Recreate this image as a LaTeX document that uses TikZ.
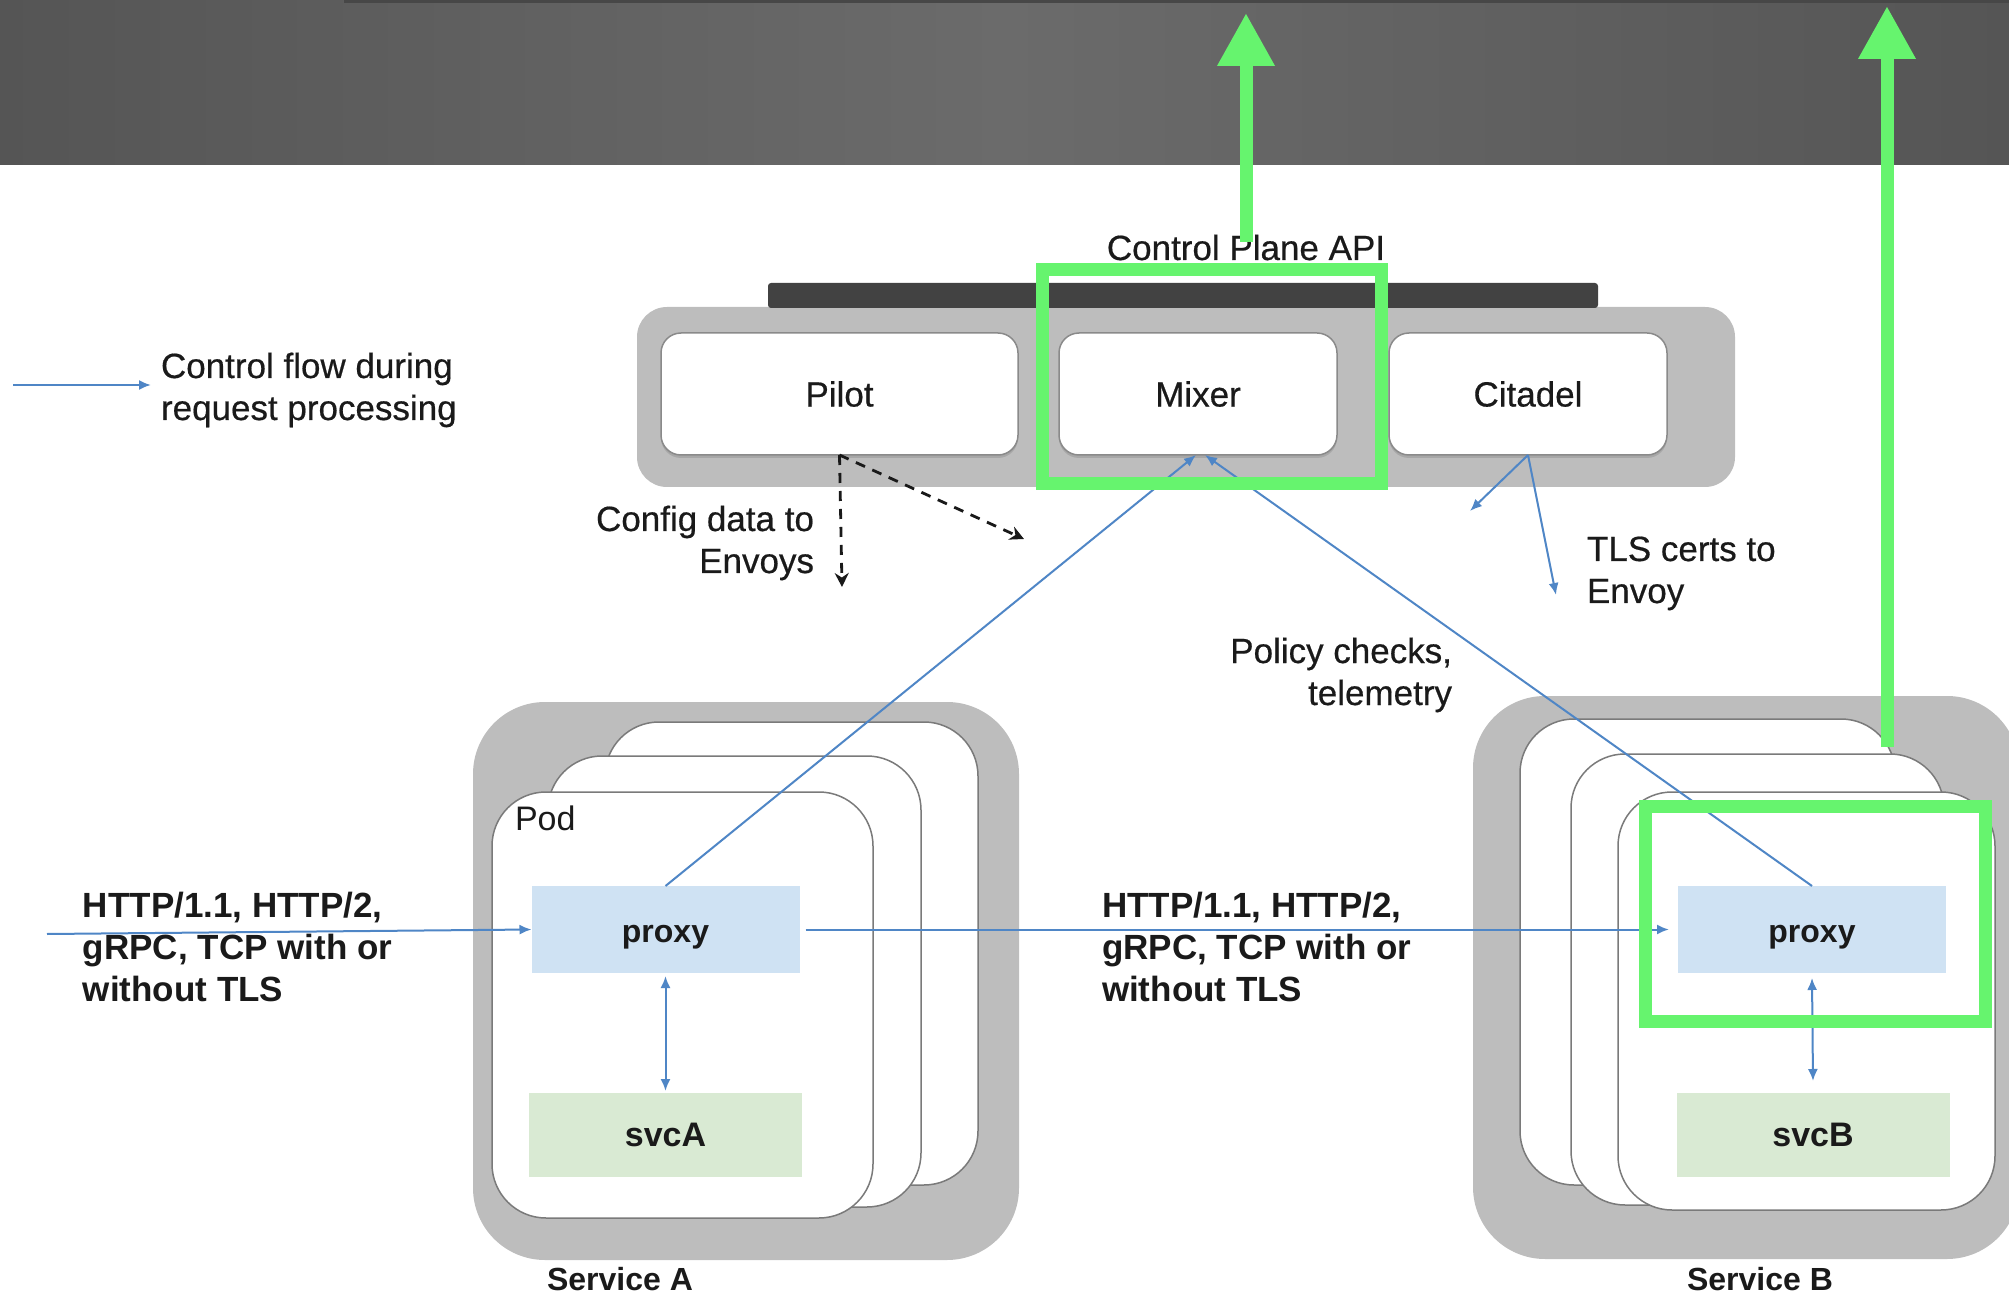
\documentclass[tikz,border=0pt]{standalone}
\usepackage{fontspec}
\setmainfont{Liberation Sans}
\newfontfamily\mediumface[FakeBold=0.5]{Liberation Sans}
\usetikzlibrary{arrows.meta,shadows}
\definecolor{bandmid}{HTML}{6B6B6B}
\definecolor{bandedge}{HTML}{555555}
\definecolor{panelgray}{HTML}{BDBDBD}
\definecolor{apibar}{HTML}{424242}
\definecolor{boxline}{HTML}{8A8A8A}
\definecolor{cardline}{HTML}{7A7A7A}
\definecolor{proxyfill}{HTML}{CFE2F3}
\definecolor{svcfill}{HTML}{D9EAD3}
\definecolor{flow}{HTML}{4F86C6}
\definecolor{hl}{HTML}{66F46E}
\definecolor{ink}{HTML}{1A1A1A}

\begin{document}
\begin{tikzpicture}[x=0.5pt,y=-0.5pt,
  every node/.style={inner sep=0pt, outer sep=0pt, text=ink},
  lbl/.style={font=\mediumface\fontsize{17.5}{21}\selectfont, align=left},
  lblr/.style={font=\mediumface\fontsize{17.5}{21}\selectfont, align=right},
  boldlbl/.style={font=\bfseries\fontsize{17.5}{21}\selectfont, align=left},
  ctrlpanel/.style={fill=panelgray, rounded corners=15pt},
  svcpanel/.style={fill=panelgray, rounded corners=36pt},
  comp/.style={draw=boxline, line width=0.75pt, fill=white, rounded corners=10pt,
    minimum width=#1, minimum height=61pt, font=\mediumface\fontsize{17.5}{21}\selectfont,
    drop shadow={shadow xshift=0pt, shadow yshift=-1.5pt, opacity=0.35}},
  card/.style={draw=cardline, line width=0.75pt, fill=white, rounded corners=27pt},
  proxybox/.style={fill=proxyfill, minimum width=134pt, minimum height=43.5pt,
    text height=13pt, text depth=0pt, font=\bfseries\fontsize{16}{19}\selectfont},
  svcbox/.style={fill=svcfill, minimum width=136.5pt, minimum height=42pt,
    font=\bfseries\fontsize{17}{20}\selectfont},
  flowarr/.style={draw=flow, line width=1pt, -{Latex[length=6pt,width=5pt]}},
  flowboth/.style={draw=flow, line width=1pt, {Latex[length=6pt,width=5pt]}-{Latex[length=6pt,width=5pt]}},
  cfgarr/.style={draw=black!90, line width=1.4pt, dash pattern=on 5pt off 4pt,
    -{Stealth[length=7pt,width=7pt]}},
  hlarrow/.style={draw=hl, line width=6.5pt, -{Triangle[length=26.5pt,width=27pt]}},
  hlbox/.style={draw=hl, line width=6.5pt}
]
\useasboundingbox (0,0) rectangle (2009,1294);
\clip (0,0) rectangle (2009,1294);

% dark header band
\shade[left color=bandedge, right color=bandedge, middle color=bandmid] (0,0) rectangle (2009,165);
\fill[black!72] (344,0) rectangle (2009,3);

% control plane
\fill[ctrlpanel] (637,307) rectangle (1735,487);
\fill[apibar, rounded corners=1.5pt] (768,283) rectangle (1598,308);
\node[font=\mediumface\fontsize{17.5}{21}\selectfont, anchor=base] (api) at (1246,260) {Control Plane API};
\node[comp=178.5pt] (pilot) at (839.5,394) {Pilot};
\node[comp=139pt] (mixer) at (1198,394) {Mixer};
\node[comp=139pt] (citadel) at (1528,394) {Citadel};

% service A with stacked pods
\fill[svcpanel] (473,702) rectangle (1019,1260);
\draw[card] (605,722) rectangle (978,1185);
\draw[card] (548,756) rectangle (921,1207);
\draw[card] (492,792) rectangle (873,1218);
\node[font=\fontsize{17}{20}\selectfont, anchor=base west] (pod) at (515,830) {Pod};
\node[proxybox] (proxyA) at (665.5,929.5) {proxy};
\node[svcbox] (svcA) at (665.5,1135) {svcA};
\node[font=\bfseries\fontsize{16}{19}\selectfont, anchor=base] (svcAlbl) at (620,1290) {Service A};

% service B with stacked pods
\fill[svcpanel] (1473,696) rectangle (2019,1259);
\draw[card] (1520,719) rectangle (1895,1185);
\draw[card] (1571,754) rectangle (1944,1205);
\draw[card] (1618,792) rectangle (1995,1210);
\node[proxybox] (proxyB) at (1812,929.5) {proxy};
\node[svcbox] (svcB) at (1813,1135) {svcB};
\node[font=\bfseries\fontsize{16}{19}\selectfont, anchor=base] (svcBlbl) at (1760,1290) {Service B};

% labels (base anchor sits on the last line)
\node[lbl, anchor=base west] (legend) at (161,420) {Control flow during\\request processing};
\node[lblr, anchor=base east] (cfgtxt) at (814,573) {Config data to\\Envoys};
\node[lbl, anchor=base west] (tlstxt) at (1587,603) {TLS certs to\\Envoy};
\node[lblr, anchor=base east] (poltxt) at (1452,705) {Policy checks,\\telemetry};
\node[boldlbl, anchor=base west] (httpA) at (83,1001) {HTTP/1.1, HTTP/2,\\gRPC, TCP with or\\without TLS};
\node[boldlbl, anchor=base west] (httpB) at (1102,1001) {HTTP/1.1, HTTP/2,\\gRPC, TCP with or\\without TLS};

% free ends of connectors
\coordinate (lg1) at (13,385);
\coordinate (lg2) at (151,385);
\coordinate (inA) at (47,934);
\coordinate (cfgdown) at (842,587);
\coordinate (cfgdiag) at (1024,539);
\coordinate (tlsA) at (1470,511);
\coordinate (tlsB) at (1556,595);

% config distribution
\draw[cfgarr] (pilot.south) -- (cfgdown);
\draw[cfgarr] (pilot.south) -- (cfgdiag);

% request flow
\draw[flowarr] (lg1) -- (lg2);
\draw[flowarr] (inA) -- (proxyA.west);
\draw[flowarr] ([xshift=3pt]proxyA.east) -- ([xshift=-4.5pt]proxyB.west);
\draw[flowboth] ([yshift=-1.5pt]proxyA.south) -- ([yshift=1pt]svcA.north);
\draw[flowboth] ([yshift=-2.5pt]proxyB.south) -- ([yshift=6pt]svcB.north);
\draw[flowarr] (proxyA.north) -- ([xshift=-1pt]mixer.south);
\draw[flowarr] (proxyB.north) -- ([xshift=3.5pt]mixer.south);
\draw[flowarr] (citadel.south) -- (tlsA);
\draw[flowarr] (citadel.south) -- (tlsB);

% highlights
\draw[hlbox] (1042,270) rectangle (1381,484);
\draw[hlbox] (1645,806) rectangle (1985,1021);
\coordinate (g1s) at (1246,242);
\coordinate (g1e) at (1246,13);
\coordinate (g2s) at (1887,747);
\coordinate (g2e) at (1887,6);
\draw[hlarrow] (g1s) -- (g1e);
\draw[hlarrow] (g2s) -- (g2e);
\end{tikzpicture}
\end{document}
